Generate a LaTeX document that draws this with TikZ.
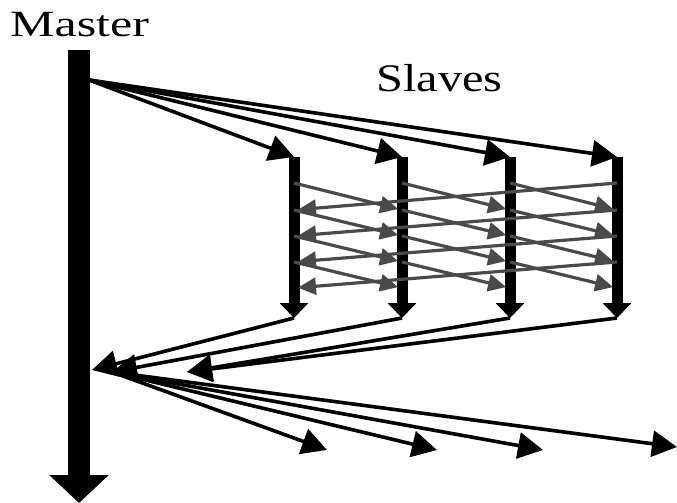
\documentclass[tikz,border=0pt]{standalone}
\usepackage{fontspec}
\setmainfont{Liberation Serif}
\usepackage{graphicx}
\usepackage{xcolor}
\usepackage{tikz}
\usetikzlibrary{positioning, arrows.meta}
\definecolor{linkgrey}{HTML}{4A4A4A}

\tikzset{
  masterbar/.style={line width=22pt, -{Triangle[length=28pt, width=58pt]}},
  slavebar/.style={line width=11pt, -{Triangle[length=15pt, width=28pt]}},
  msg/.style={line width=3.6pt, -{Triangle[length=25pt, width=26pt]}},
  xfer/.style={draw=linkgrey, line width=3.2pt, shorten >=4pt,
               -{Triangle[length=18pt, width=17pt]}},
  label/.style={anchor=base west, inner sep=0pt},
}

\begin{document}
\begin{tikzpicture}[x=1pt, y=-1pt]
  \useasboundingbox (0,0) rectangle (677,503);

  % the master and its time line
  \node[label, font=\fontsize{37}{37}\selectfont] (master) at (10,37)
    {\scalebox{1.35}[1]{Master}};
  \coordinate (mtop) at (79,50);
  \coordinate (mbot) at (79,503);
  \coordinate (mout) at (89,80);
  \draw[masterbar] (mtop) -- (mbot);

  % the slaves
  \node[label, font=\fontsize{39}{39}\selectfont] (slaves) at (376,92)
    {\scalebox{1.24}[1]{Slaves}};
  \foreach \i/\x in {1/294, 2/402, 3/510, 4/617} {
    \coordinate (s\i-top) at (\x,157);
    \coordinate (s\i-bot) at (\x,318);
    \foreach \k/\y in {0/183, 1/210, 2/236, 3/262, 4/288}
      \coordinate (s\i-\k) at (\x,\y);
    \draw[slavebar] (s\i-top) -- (s\i-bot);
  }

  % master sends to every slave
  \foreach \i in {1,...,4}
    \draw[msg] (mout) -- (s\i-top);

  % exchange between the slaves
  \foreach \i/\j in {1/2, 2/3, 3/4}
    \foreach \k/\l in {0/1, 1/2, 2/3, 3/4}
      \draw[xfer] (s\i-\k) -- (s\j-\l);
  \foreach \k/\l in {0/1, 1/2, 2/3, 3/4}
    \draw[xfer] (s4-\k) -- (s1-\l);

  % results back to the master
  \coordinate (r1) at (92,370);
  \coordinate (r2) at (112,372);
  \coordinate (r3) at (187,372);
  \draw[msg] (s1-bot) -- (r1);
  \draw[msg] (s2-bot) -- (r2);
  \draw[msg] (s3-bot) -- (r3);
  \draw[msg] (s4-bot) -- (r3);

  % and out again
  \coordinate (f1) at (327,450);
  \coordinate (f2) at (437,450);
  \coordinate (f3) at (543,450);
  \coordinate (f4) at (677,447);
  \foreach \i in {1,...,4}
    \draw[msg] (r2) -- (f\i);
\end{tikzpicture}
\end{document}
